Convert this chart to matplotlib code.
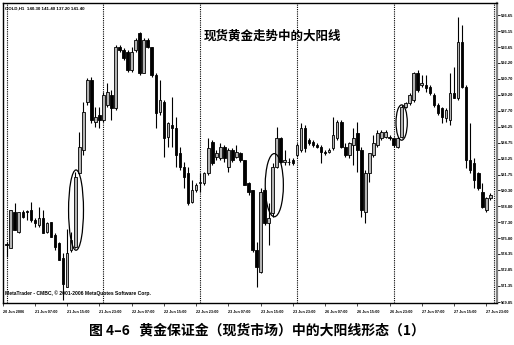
import matplotlib
matplotlib.use("Agg")
import matplotlib.pyplot as plt
from matplotlib.patches import Ellipse
import numpy as np

plt.rcParams['font.family'] = ['DejaVu Sans', 'Noto Sans CJK SC']

# ---------------- data (GOLD, H1) ----------------
opens = [575.26, 574.89, 578.28, 576.41, 578.28, 578.28, 578.44, 577.50, 577.04, 577.66,
         576.41, 577.34, 576.10, 575.33, 573.92, 571.27, 574.70, 574.98, 581.87, 584.05,
         588.57, 590.59, 586.69, 587.32, 586.85, 588.25, 589.19, 587.94, 593.71, 593.40,
         593.24, 591.53, 593.40, 594.96, 591.22, 594.33, 593.71, 591.06, 587.63, 588.57,
         585.29, 586.38, 586.07, 583.74, 582.49, 581.87, 579.21, 580.31, 580.93, 580.93,
         581.87, 584.82, 583.42, 583.27, 584.36, 582.49, 584.05, 583.42, 583.74, 583.11,
         580.93, 580.31, 574.70, 572.67, 580.31, 577.19, 578.13, 582.49, 585.14, 582.95,
         582.95, 583.11, 583.58, 584.05, 586.07, 584.98, 584.82, 584.51, 584.36, 583.89,
         583.89, 584.21, 585.14, 586.69, 584.36, 583.58, 584.51, 585.60, 584.05, 578.28,
         581.87, 583.58, 584.51, 585.14, 585.29, 585.29, 585.14, 584.36, 585.29, 588.10,
         588.41, 588.72, 591.22, 590.12, 590.12, 589.97, 589.19, 588.25, 587.94, 587.01,
         586.85, 589.35, 588.88, 594.17, 589.97, 583.11, 582.80, 581.87, 580.15, 578.44,
         579.53]
highs = [575.49, 578.44, 579.09, 578.28, 578.44, 578.44, 579.21, 577.66, 578.74, 578.44,
         577.34, 577.34, 576.26, 575.48, 574.39, 576.72, 576.41, 582.02, 585.76, 588.57,
         590.75, 590.90, 588.10, 588.10, 589.50, 590.28, 589.66, 593.86, 593.86, 593.56,
         593.40, 593.71, 594.49, 595.11, 594.49, 594.49, 593.71, 591.22, 590.59, 588.72,
         586.69, 589.03, 587.16, 584.36, 582.95, 582.49, 581.24, 580.93, 581.87, 582.02,
         585.14, 584.98, 584.05, 584.67, 584.51, 584.21, 584.21, 584.51, 583.89, 583.11,
         581.08, 580.31, 575.48, 580.47, 580.47, 579.06, 582.80, 586.22, 585.29, 584.05,
         583.30, 583.27, 584.67, 586.54, 586.38, 585.17, 584.98, 584.67, 584.51, 584.05,
         584.21, 587.16, 586.85, 586.85, 584.67, 584.82, 586.07, 586.69, 584.36, 582.18,
         583.74, 585.45, 585.91, 585.91, 585.91, 585.45, 585.29, 585.29, 588.25, 588.57,
         589.35, 591.37, 591.53, 591.06, 591.06, 590.12, 589.35, 588.41, 588.10, 587.94,
         591.22, 591.84, 596.51, 595.74, 590.12, 586.54, 583.27, 582.02, 580.93, 579.68,
         580.00]
lows = [574.09, 574.89, 576.57, 576.26, 577.69, 577.50, 577.34, 576.88, 576.88, 576.26,
        576.26, 575.94, 574.70, 573.76, 570.02, 571.27, 574.54, 574.89, 581.87, 583.58,
        588.25, 586.54, 586.22, 586.07, 586.69, 588.10, 586.85, 587.79, 593.24, 592.46,
        591.37, 591.37, 593.24, 591.06, 591.22, 593.56, 590.90, 586.07, 587.32, 583.42,
        584.36, 584.36, 582.49, 582.18, 580.47, 578.90, 579.06, 580.15, 580.15, 580.77,
        581.71, 582.64, 583.11, 583.11, 582.95, 582.02, 582.95, 583.27, 582.95, 580.77,
        579.84, 574.54, 571.27, 572.52, 577.04, 575.17, 577.81, 582.33, 582.80, 582.64,
        582.64, 582.64, 583.42, 583.89, 583.89, 584.51, 584.36, 584.21, 582.80, 583.58,
        583.74, 584.05, 584.98, 584.21, 583.42, 583.27, 582.64, 582.02, 577.81, 577.19,
        581.08, 583.42, 584.36, 584.98, 585.14, 584.98, 584.36, 584.21, 585.14, 587.94,
        588.25, 588.57, 589.50, 589.97, 589.50, 589.19, 588.10, 587.32, 586.54, 586.69,
        586.38, 588.88, 588.72, 589.82, 582.33, 581.87, 580.47, 580.31, 578.59, 578.28,
        579.37]
closes = [575.21, 578.44, 576.57, 578.28, 577.81, 578.25, 577.50, 577.19, 577.66, 576.26,
          577.19, 575.94, 575.01, 573.76, 571.58, 574.39, 575.63, 581.52, 584.36, 587.63,
          590.59, 586.85, 587.16, 586.85, 589.19, 589.50, 587.94, 593.71, 593.40, 592.62,
          591.53, 593.24, 594.33, 591.22, 594.33, 593.71, 591.06, 587.48, 588.72, 585.14,
          586.54, 586.07, 583.58, 582.49, 581.55, 579.06, 580.31, 580.77, 581.08, 581.87,
          584.21, 582.80, 583.74, 584.36, 583.27, 584.05, 583.11, 583.89, 583.11, 580.77,
          580.15, 574.70, 573.14, 580.15, 577.19, 577.66, 582.49, 585.14, 582.95, 583.11,
          582.90, 582.80, 584.51, 586.07, 584.21, 584.67, 584.51, 584.36, 583.89, 583.74,
          584.05, 585.45, 586.69, 584.36, 583.58, 584.67, 585.14, 584.05, 578.44, 581.87,
          583.74, 584.67, 585.60, 585.76, 585.76, 585.14, 584.51, 585.14, 588.10, 588.41,
          589.19, 591.22, 589.66, 590.28, 589.82, 589.35, 588.25, 587.48, 587.16, 587.79,
          589.35, 588.88, 594.17, 589.97, 583.11, 582.18, 581.24, 580.47, 578.74, 579.53,
          579.84]

price_ticks = [569.85, 571.35, 572.85, 574.35, 575.80, 577.30, 578.80, 580.30, 581.75,
               583.25, 584.75, 586.25, 587.70, 589.20, 590.70, 592.20, 593.65, 595.15, 596.65]
time_labels = ["21 Jun 07:00", "21 Jun 15:00", "21 Jun 23:00", "22 Jun 07:00", "22 Jun 15:00",
               "22 Jun 23:00", "23 Jun 07:00", "23 Jun 15:00", "23 Jun 23:00", "26 Jun 07:00",
               "26 Jun 15:00", "26 Jun 23:00", "27 Jun 07:00", "27 Jun 15:00", "27 Jun 23:00"]
first_label = "20 Jun 2006"
day_starts = [0, 24, 48, 72, 96, 120.8]

# ---------------- figure ----------------
W, H = 514, 345
fig = plt.figure(figsize=(W / 100, H / 100), dpi=100)
fig.patch.set_facecolor('white')
ax = fig.add_axes([3 / W, 42 / H, 494 / W, 300 / H])
ax.set_facecolor('white')

o = np.array(opens); h = np.array(highs); l = np.array(lows); c = np.array(closes)
x = np.arange(len(o))
up = c >= o

# wicks
ax.vlines(x, l, h, color='black', linewidth=0.8, zorder=2)
# bodies
bottom = np.minimum(o, c)
height = np.maximum(np.abs(c - o), 0.06)
ax.bar(x[up], height[up], bottom=bottom[up], width=0.65, color='#b4b4b4',
       edgecolor='black', linewidth=0.6, zorder=3)
ax.bar(x[~up], height[~up], bottom=bottom[~up], width=0.65, color='black',
       edgecolor='black', linewidth=0.6, zorder=3)

# day separators
for d in day_starts:
    ax.axvline(d, color='black', linewidth=0.8, linestyle=(0, (1, 1)), zorder=1)

# ellipses marking the big bullish candles
for (cx, cy, ew, eh) in [(17.2, 578.44, 3.7, 7.5), (66.4, 580.77, 4.5, 5.9), (98.0, 586.62, 2.8, 3.3)]:
    ax.add_patch(Ellipse((cx, cy), ew, eh, fill=False, edgecolor='black', linewidth=0.9, zorder=4))

ax.set_xlim(-0.92, 121.66)
ax.set_ylim(569.76, 597.79)

# axes styling
for s in ['left', 'top', 'bottom']:
    ax.spines[s].set_color('black')
    ax.spines[s].set_linewidth(1.0)
ax.spines['right'].set_color('#808080')
ax.spines['right'].set_linewidth(1.6)

small = ['Liberation Sans', 'DejaVu Sans']
ax.yaxis.tick_right()
ax.set_yticks(price_ticks)
ax.set_yticklabels([f"{v:.2f}" for v in price_ticks], fontsize=2.9, fontweight='bold',
                   family=small)
ax.tick_params(axis='y', length=2, width=0.6, pad=0.8, color='black')

tick_pos = [7 + 8 * k for k in range(len(time_labels))]
ax.set_xticks([-0.9] + tick_pos)
ax.set_xticklabels([first_label] + time_labels, fontsize=2.7, fontweight='bold', ha='left',
                   family=small)
ax.tick_params(axis='x', length=2, width=0.5, pad=3)

# texts
fig.text(5 / W, 1 - 8 / H, "GOLD,H1  140.30 141.40 137.20 141.40", fontsize=3.2,
         fontweight='bold', ha='left', va='center', family=small)
fig.text(5 / W, 1 - 293 / H, "MetaTrader - CMBC, \u00a9 2001-2006 MetaQuotes Software Corp.",
         fontsize=3.6, fontweight='bold', ha='left', va='center', family=small)
fig.text(272 / W, 1 - 36 / H, "现货黄金走势中的大阳线", fontsize=9, fontweight='bold',
         ha='center', va='center', family=['Noto Sans CJK SC', 'DejaVu Sans'])
fig.text(257 / W, 1 - 330 / H, "图 4–6   黄金保证金（现货市场）中的大阳线形态（1）", fontsize=10,
         fontweight='bold', ha='center', va='center', family=['Noto Sans CJK SC', 'DejaVu Sans'])

fig.savefig("out.png", dpi=100, facecolor='white')
